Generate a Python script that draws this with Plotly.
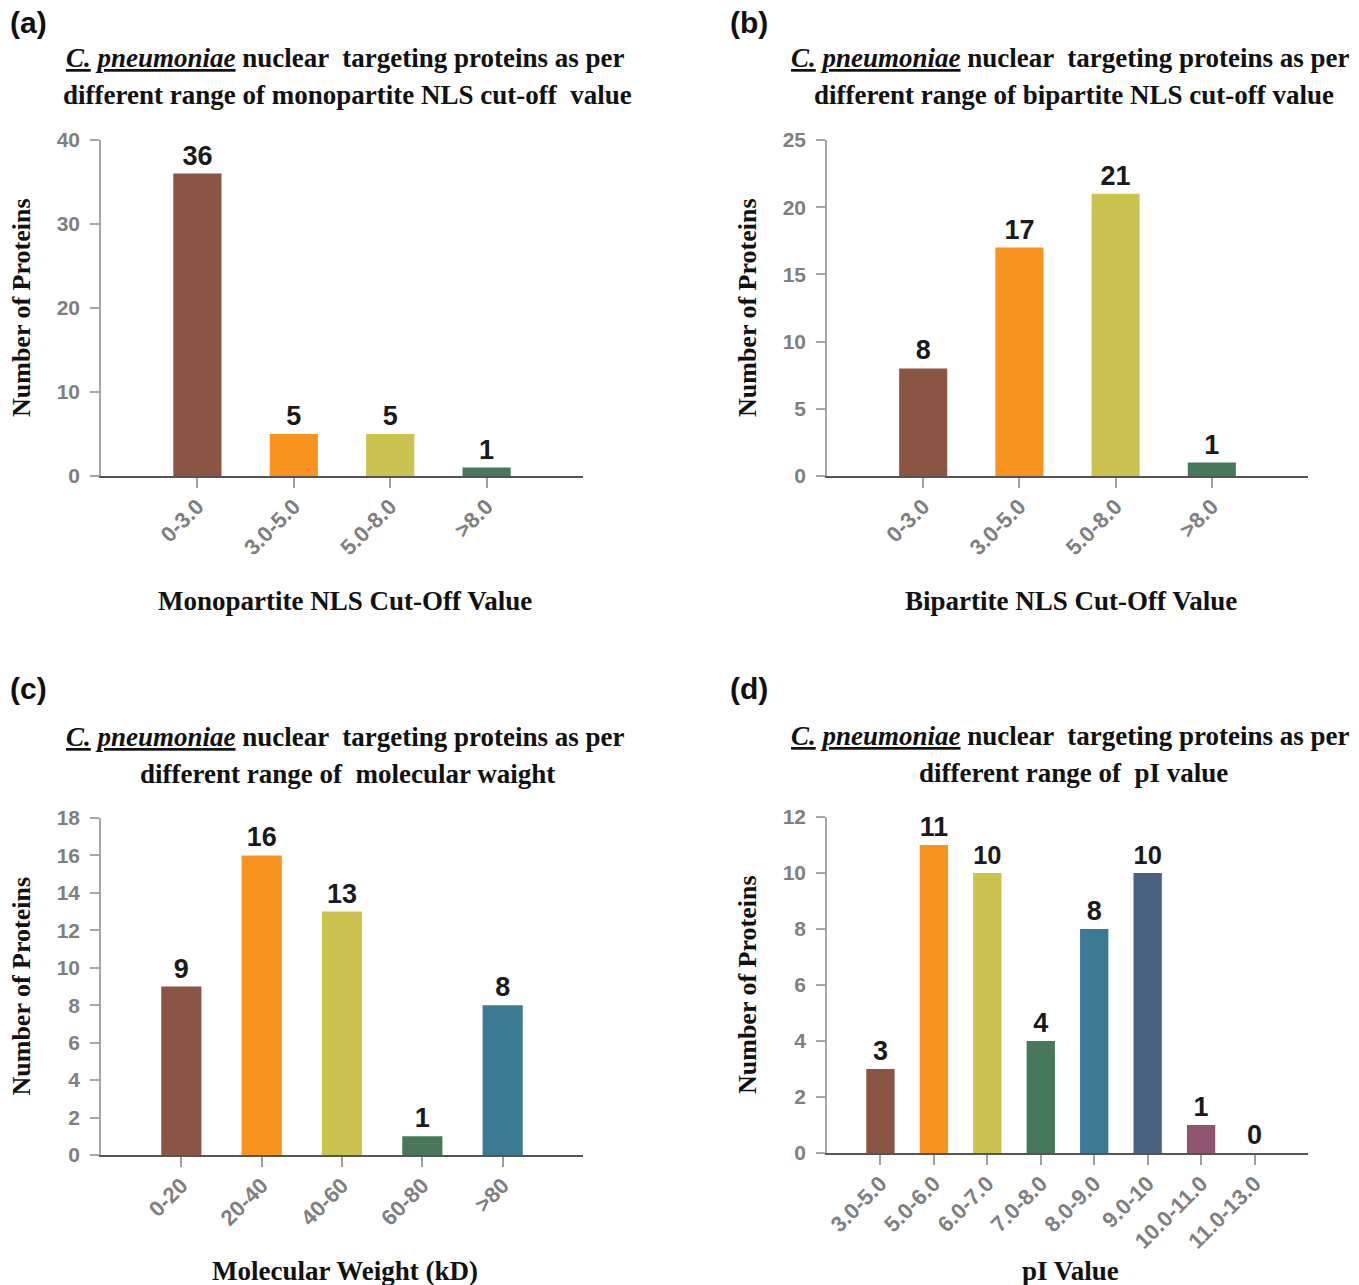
import plotly.graph_objects as go

W, H = 1359, 1285

# ---------------- data ----------------
mono_cats = ["0-3.0", "3.0-5.0", "5.0-8.0", ">8.0"]
mono_vals = [36, 5, 5, 1]

bi_cats = ["0-3.0", "3.0-5.0", "5.0-8.0", ">8.0"]
bi_vals = [8, 17, 21, 1]

mw_cats = ["0-20", "20-40", "40-60", "60-80", ">80"]
mw_vals = [9, 16, 13, 1, 8]

pi_cats = ["3.0-5.0", "5.0-6.0", "6.0-7.0", "7.0-8.0", "8.0-9.0", "9.0-10", "10.0-11.0", "11.0-13.0"]
pi_vals = [3, 11, 10, 4, 8, 10, 1, 0]

BROWN, ORANGE, OLIVE, GREEN, TEAL, NAVY, PURPLE = (
    "#8B5543", "#F7931E", "#CBC24F", "#47785A", "#3D7B94", "#4A6282", "#8E5472")

panels = [
    dict(cats=mono_cats, vals=mono_vals, colors=[BROWN, ORANGE, OLIVE, GREEN],
         ymax=40, dtick=10, width=0.5,
         px=(101, 583), py=(140, 476), label="(a)", lab_x=8,
         t2="different range of monopartite NLS cut-off  value",
         xtitle="Monopartite NLS Cut-Off Value", xt_y=601, title_y=58, lab_y=22),
    dict(cats=bi_cats, vals=bi_vals, colors=[BROWN, ORANGE, OLIVE, GREEN],
         ymax=25, dtick=5, width=0.5,
         px=(827, 1308), py=(140, 476), label="(b)", lab_x=728,
         t2="different range of bipartite NLS cut-off value",
         xtitle="Bipartite NLS Cut-Off Value", xt_y=601, title_y=58, lab_y=22),
    dict(cats=mw_cats, vals=mw_vals, colors=[BROWN, ORANGE, OLIVE, GREEN, TEAL],
         ymax=18, dtick=2, width=0.5,
         px=(101, 583), py=(818, 1155), label="(c)", lab_x=8,
         t2="different range of  molecular waight",
         xtitle="Molecular Weight (kD)", xt_y=1271, title_y=737, lab_y=688),
    dict(cats=pi_cats, vals=pi_vals, colors=[BROWN, ORANGE, OLIVE, GREEN, TEAL, NAVY, PURPLE, PURPLE],
         ymax=12, dtick=2, width=0.53,
         px=(827, 1308), py=(817, 1153), label="(d)", lab_x=728,
         t2="different range of  pI value",
         xtitle="pI Value", xt_y=1271, title_y=736, lab_y=688),
]

SERIF = "Liberation Serif"
SANS = "Liberation Sans"
TICKGRAY = "#7f7f7f"

fig = go.Figure()
annotations = []
layout_axes = {}


def fx(x):
    return x / W


def fy(y):
    return 1 - y / H


for i, p in enumerate(panels):
    n = i + 1
    xa = "x" if n == 1 else f"x{n}"
    ya = "y" if n == 1 else f"y{n}"
    fig.add_trace(go.Bar(
        x=p["cats"], y=p["vals"], xaxis=xa, yaxis=ya,
        marker=dict(color=p["colors"], line=dict(width=0)),
        width=p["width"],
        text=[str(v) for v in p["vals"]], textposition="outside",
        textfont=dict(family=SANS, size=27, color="#1a1a1a", weight="bold"),
        cliponaxis=False, showlegend=False, hoverinfo="skip",
    ))
    ncat = len(p["cats"])
    xkey = "xaxis" if n == 1 else f"xaxis{n}"
    ykey = "yaxis" if n == 1 else f"yaxis{n}"
    layout_axes[xkey] = dict(
        domain=[fx(p["px"][0]), fx(p["px"][1])], anchor=ya,
        range=[-1, ncat], type="category", automargin=False,
        showline=True, linecolor="#555555", linewidth=2,
        ticks="outside", ticklen=10, tickcolor="#a0a0a0", tickwidth=1.5,
        tickangle=-45, showgrid=False, zeroline=False, ticklabelstandoff=-3,
        tickfont=dict(family=SANS, size=22, color=TICKGRAY, weight="bold"),
    )
    layout_axes[ykey] = dict(
        domain=[fy(p["py"][1]), fy(p["py"][0])], anchor=xa,
        range=[0, p["ymax"]], dtick=p["dtick"], automargin=False,
        showline=True, linecolor="#a6a6a6", linewidth=1.5,
        ticks="outside", ticklen=9, tickcolor="#a6a6a6", tickwidth=1.5,
        showgrid=False, zeroline=False, ticklabelstandoff=6,
        tickfont=dict(family=SANS, size=21, color=TICKGRAY, weight="bold"),
    )
    cx = (p["px"][0] + p["px"][1]) / 2 + 3
    annotations += [
        dict(text=p["label"], x=fx(p["lab_x"]), y=fy(p["lab_y"]), xref="paper", yref="paper",
             xanchor="left", yanchor="middle", showarrow=False,
             font=dict(family=SANS, size=30, color="#111111", weight="bold")),
        dict(text="<i><u>C.</u> <u>pneumoniae</u></i> nuclear  targeting proteins as per",
             x=fx(cx), y=fy(p["title_y"]), xref="paper", yref="paper",
             xanchor="center", yanchor="middle", showarrow=False,
             font=dict(family=SERIF, size=27, color="#111111", weight="bold")),
        dict(text=p["t2"],
             x=fx(cx + 3), y=fy(p["title_y"] + 37), xref="paper", yref="paper",
             xanchor="center", yanchor="middle", showarrow=False,
             font=dict(family=SERIF, size=27, color="#111111", weight="bold")),
        dict(text=p["xtitle"],
             x=fx(cx), y=fy(p["xt_y"]), xref="paper", yref="paper",
             xanchor="center", yanchor="middle", showarrow=False,
             font=dict(family=SERIF, size=27, color="#111111", weight="bold")),
        dict(text="Number of Proteins", textangle=-90,
             x=fx(p["px"][0] - 80), y=fy((p["py"][0] + p["py"][1]) / 2), xref="paper", yref="paper",
             xanchor="center", yanchor="middle", showarrow=False,
             font=dict(family=SERIF, size=26, color="#111111", weight="bold")),
    ]

fig.update_layout(
    width=W, height=H, margin=dict(l=0, r=0, t=0, b=0, pad=0, autoexpand=False),
    paper_bgcolor="white", plot_bgcolor="white",
    annotations=annotations, bargap=0.5,
    **layout_axes,
)

fig.write_html(
    "out.html",
    config={"displayModeBar": False},
    post_script="document.body.style.margin='0';document.body.style.overflow='hidden';",
)
